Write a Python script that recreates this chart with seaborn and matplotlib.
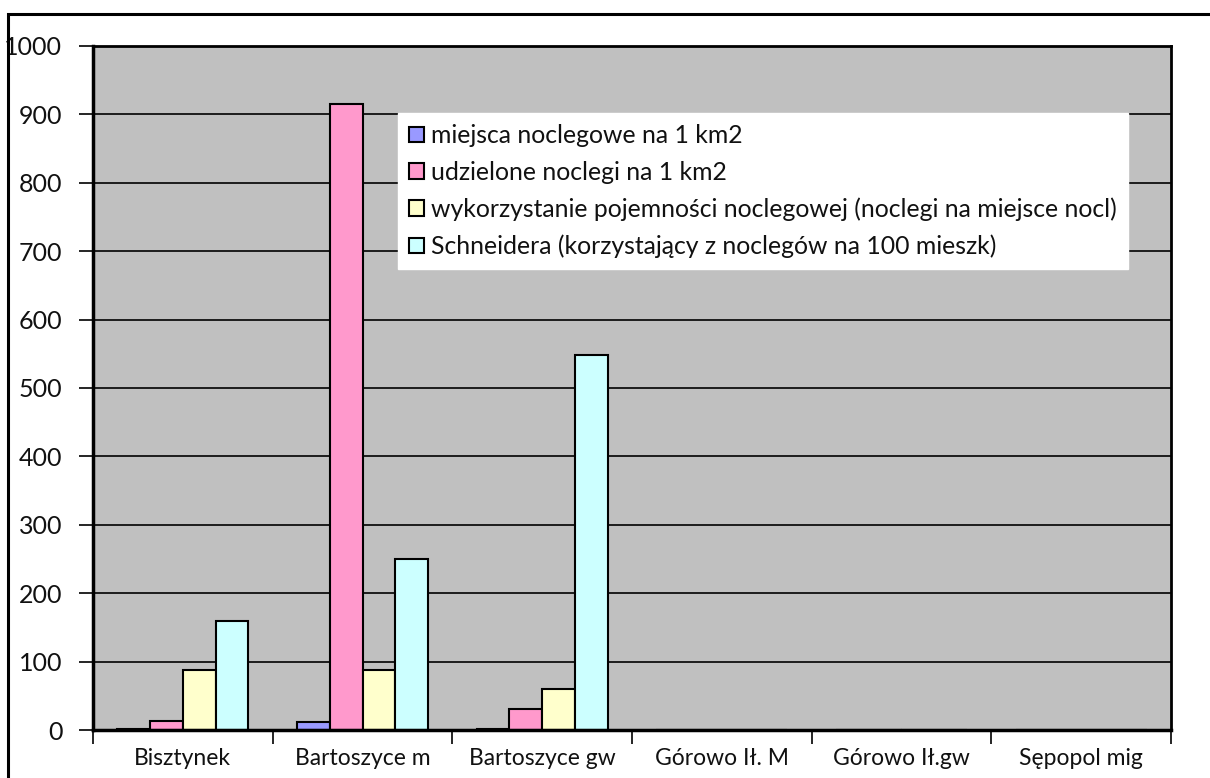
import numpy as np
import pandas as pd
import matplotlib
matplotlib.use("Agg")
import matplotlib.pyplot as plt
from matplotlib.patches import Rectangle
from matplotlib.ticker import FixedLocator, NullFormatter
import seaborn as sns

# dane
gminy = ["Bisztynek", "Bartoszyce m", "Bartoszyce gw", "Górowo Ił. M", "Górowo Ił.gw", "Sępopol mig"]
serie = [
    "miejsca noclegowe na 1 km2",
    "udzielone noclegi na 1 km2",
    "wykorzystanie pojemności noclegowej (noclegi na miejsce nocl)",
    "Schneidera (korzystający z noclegów na 100 mieszk)",
]
miejsca = [2, 12, 2, 0, 0, 0]
udzielone = [13, 915, 31, 0, 0, 0]
wykorzystanie = [87, 87, 60, 0, 0, 0]
schneider = [160, 250, 548, 0, 0, 0]
kolory = ["#9999FF", "#FF99CC", "#FFFFCC", "#CCFFFF"]

rows = []
for s, vals in zip(serie, [miejsca, udzielone, wykorzystanie, schneider]):
    for g, v in zip(gminy, vals):
        rows.append({"gmina": g, "seria": s, "wartosc": v})
df = pd.DataFrame(rows)

sns.set_style("white")
plt.rcParams["font.family"] = ["Lato", "DejaVu Sans"]

fig = plt.figure(figsize=(12.1, 7.78), dpi=100)
ax = fig.add_axes([93 / 1210, 1 - 730 / 778, (1171 - 93) / 1210, (730 - 46) / 778])
ax.set_facecolor("#C0C0C0")

sns.barplot(data=df, x="gmina", y="wartosc", hue="seria", palette=kolory,
            width=0.73, gap=0, edgecolor="black", linewidth=1.5, ax=ax,
            saturation=1, legend=True)

ax.set_ylim(0, 1000)
ax.set_xlim(-0.5, len(gminy) - 0.5)
ax.set_yticks(np.arange(0, 1001, 100))
ax.yaxis.grid(True, color="black", linewidth=1.2)
ax.set_axisbelow(True)
ax.set_xlabel("")
ax.set_ylabel("")

ax.tick_params(axis="y", length=10, width=1.2, color="black", labelsize=18,
               labelcolor="#111111", pad=12, direction="out", left=True)
ax.tick_params(axis="x", which="major", length=0, labelsize=16.5, labelcolor="#111111", pad=13)
ax.xaxis.set_minor_locator(FixedLocator(np.arange(-0.5, len(gminy), 1.0)))
ax.xaxis.set_minor_formatter(NullFormatter())
ax.tick_params(axis="x", which="minor", length=10, width=1.2, color="black", direction="out", bottom=True)

for side in ["left", "bottom"]:
    ax.spines[side].set_color("black")
    ax.spines[side].set_linewidth(2.5)
for side in ["top", "right"]:
    ax.spines[side].set_color("black")
    ax.spines[side].set_linewidth(2)

leg = ax.legend(loc="upper left", bbox_to_anchor=(0.283, 0.902), frameon=True,
                fancybox=False, framealpha=1, facecolor="white", edgecolor="white",
                fontsize=17.8, handlelength=0.6, handleheight=0.6, handletextpad=0.3,
                labelspacing=0.55, borderpad=0.45, borderaxespad=0)
for h in leg.legend_handles:
    h.set_edgecolor("black")
    h.set_linewidth(1.5)
for t in leg.get_texts():
    t.set_color("#111111")

# ramka obszaru wykresu
fig.patches.append(Rectangle((8 / 1210, -0.1), 1.2, 1.1 - 14 / 778, transform=fig.transFigure,
                             fill=False, edgecolor="black", linewidth=2.2, zorder=10))

fig.savefig("out.png", dpi=100)
